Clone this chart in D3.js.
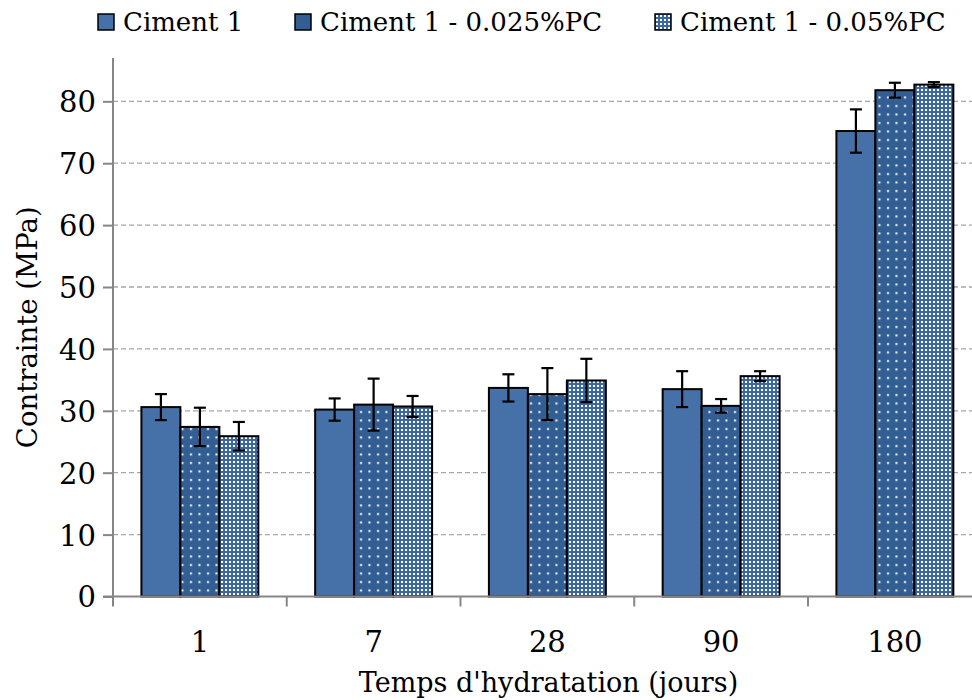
<!DOCTYPE html>
<html>
<head>
<meta charset="utf-8">
<script src="https://cdn.jsdelivr.net/npm/d3@7"></script>
<style>
    body { margin: 0; background: #ffffff; }
    #bar-chart text { font-family: "DejaVu Serif", serif; fill: #000000; }
</style>
</head>
<body>
<div id="bar-chart"></div>
<script>
// Categories (days of hydration) and series names.
const days = ["1", "7", "28", "90", "180"];
const seriesNames = ["Ciment 1", "Ciment 1 - 0.025%PC", "Ciment 1 - 0.05%PC"];

// Mean stress values (MPa) per series.
const ciment1 = [30.6, 30.2, 33.7, 33.5, 75.2];
const ciment1pc025 = [27.4, 31.0, 32.7, 30.8, 81.8];
const ciment1pc05 = [25.9, 30.7, 34.9, 35.6, 82.7];

// Error bar half-widths (MPa) per series.
const err1 = [2.1, 1.8, 2.2, 2.9, 3.5];
const err1pc025 = [3.1, 4.2, 4.2, 1.1, 1.2];
const err1pc05 = [2.3, 1.7, 3.5, 0.8, 0.4];

// Y axis tick values.
const yTicks = [0, 10, 20, 30, 40, 50, 60, 70, 80];

/*
Accepts:     Void
Returns:     Void
Description: Draws the grouped bar chart of stress against hydration time.
*/
function drawChart() {

    const values = [ciment1, ciment1pc025, ciment1pc05];
    const errors = [err1, err1pc025, err1pc05];

    // Make dimensions for the graph.
    let width = 972;
    let height = 700;
    let plotLeft = 113;
    let plotTop = 58;
    let plotBottom = 596.5;
    let plotRight = plotLeft + 5 * 173.75;

    let svg = d3.select("#bar-chart")
        .append("svg")
        .attr("width", width)
        .attr("height", height);

    // Create the patterns used for the second and third series.
    let defs = svg.append("defs");
    let sparse = defs.append("pattern")
        .attr("id", "dots-sparse")
        .attr("patternUnits", "userSpaceOnUse")
        .attr("width", 8.5)
        .attr("height", 8.5);
    sparse.append("rect").attr("width", 8.5).attr("height", 8.5).attr("fill", "#335E94");
    sparse.append("rect").attr("x", 3).attr("y", 3).attr("width", 2).attr("height", 2).attr("fill", "#ffffff");

    let dense = defs.append("pattern")
        .attr("id", "dots-dense")
        .attr("patternUnits", "userSpaceOnUse")
        .attr("width", 4)
        .attr("height", 4);
    dense.append("rect").attr("width", 4).attr("height", 4).attr("fill", "#3C68A2");
    dense.append("rect").attr("x", 1).attr("y", 1).attr("width", 2).attr("height", 2).attr("fill", "#ffffff");

    const fills = ["#4571A8", "url(#dots-sparse)", "url(#dots-dense)"];
    const legendFills = ["#4571A8", "#335E94", "url(#dots-dense)"];

    // Create scales.
    let x = d3.scaleBand()
        .domain(days)
        .range([plotLeft, plotRight])
        .paddingInner(0.327)
        .paddingOuter(0.1635);

    let xSub = d3.scaleBand()
        .domain(d3.range(seriesNames.length))
        .range([0, x.bandwidth()]);

    let y = d3.scaleLinear()
        .domain([0, 87])
        .range([plotBottom, plotTop]);

    // Create the dashed grid lines.
    svg.append("g")
        .selectAll("line")
        .data(yTicks.filter(d => d > 0))
        .enter()
        .append("line")
        .attr("x1", plotLeft)
        .attr("x2", width)
        .attr("y1", d => y(d))
        .attr("y2", d => y(d))
        .attr("stroke", "#A6A6A6")
        .attr("stroke-width", 1.3)
        .attr("stroke-dasharray", "5,3");

    // Create the bars.
    const bars = [];
    days.forEach((day, i) => {
        seriesNames.forEach((name, s) => {
            bars.push({ day: day, series: s, value: values[s][i], err: errors[s][i] });
        });
    });

    svg.append("g")
        .selectAll("rect")
        .data(bars)
        .enter()
        .append("rect")
        .attr("x", d => x(d.day) + xSub(d.series))
        .attr("y", d => y(d.value))
        .attr("width", xSub.bandwidth())
        .attr("height", d => y(0) - y(d.value))
        .attr("fill", d => fills[d.series])
        .attr("stroke", "#000000")
        .attr("stroke-width", 2);

    // Create the error bars.
    let errGroup = svg.append("g")
        .attr("stroke", "#000000")
        .attr("stroke-width", 2.2);
    bars.forEach(d => {
        let cx = x(d.day) + xSub(d.series) + xSub.bandwidth() / 2;
        errGroup.append("line")
            .attr("x1", cx).attr("x2", cx)
            .attr("y1", y(d.value + d.err)).attr("y2", y(d.value - d.err));
        [d.value + d.err, d.value - d.err].forEach(v => {
            errGroup.append("line")
                .attr("x1", cx - 6).attr("x2", cx + 6)
                .attr("y1", y(v)).attr("y2", y(v));
        });
    });

    // Create Y axis.
    let yAxis = svg.append("g")
        .attr("transform", "translate(" + plotLeft + ",0)")
        .call(d3.axisLeft(y).tickValues(yTicks).tickSize(10).tickPadding(7));
    yAxis.select(".domain").remove();
    yAxis.selectAll(".tick line").attr("stroke", "#868686").attr("stroke-width", 2);
    yAxis.selectAll(".tick text").style("font-size", "29px").attr("dy", "0.36em");
    yAxis.append("line")
        .attr("x1", 0).attr("x2", 0)
        .attr("y1", plotTop).attr("y2", plotBottom)
        .attr("stroke", "#868686")
        .attr("stroke-width", 2);

    // Create X axis with ticks between the categories.
    let xAxis = svg.append("g")
        .attr("transform", "translate(0," + plotBottom + ")");
    xAxis.append("line")
        .attr("x1", plotLeft - 10).attr("x2", width)
        .attr("stroke", "#868686")
        .attr("stroke-width", 2);
    let gap = (x.step() - x.bandwidth()) / 2;
    xAxis.selectAll(".sep")
        .data(days.concat(["end"]))
        .enter()
        .append("line")
        .attr("x1", (d, i) => i < days.length ? x(d) - gap : x(days[days.length - 1]) + x.bandwidth() + gap)
        .attr("x2", (d, i) => i < days.length ? x(d) - gap : x(days[days.length - 1]) + x.bandwidth() + gap)
        .attr("y1", 0).attr("y2", 10)
        .attr("stroke", "#868686")
        .attr("stroke-width", 2);
    xAxis.selectAll(".label")
        .data(days)
        .enter()
        .append("text")
        .attr("x", d => x(d) + x.bandwidth() / 2)
        .attr("y", 55)
        .attr("text-anchor", "middle")
        .style("font-size", "29px")
        .text(d => d);

    // Create X axis title.
    svg.append("text")
        .attr("x", (plotLeft + width) / 2 + 6)
        .attr("y", 692)
        .attr("text-anchor", "middle")
        .style("font-size", "27px")
        .text("Temps d'hydratation (jours)");

    // Create Y axis title.
    svg.append("text")
        .attr("transform", "translate(37," + ((plotTop + plotBottom) / 2) + ") rotate(-90)")
        .attr("text-anchor", "middle")
        .style("font-size", "27.5px")
        .text("Contrainte (MPa)");

    // Create the legend.
    const legendX = [98, 295, 655];
    let legend = svg.append("g")
        .selectAll("g")
        .data(seriesNames)
        .enter()
        .append("g")
        .attr("transform", (d, i) => "translate(" + legendX[i] + ",14)");
    legend.append("rect")
        .attr("width", 16)
        .attr("height", 16)
        .attr("fill", (d, i) => legendFills[i])
        .attr("stroke", "#000000")
        .attr("stroke-width", 1.5);
    legend.append("text")
        .attr("x", 25)
        .attr("y", 17)
        .style("font-size", "26px")
        .text(d => d);
}

drawChart();
</script>
</body>
</html>
